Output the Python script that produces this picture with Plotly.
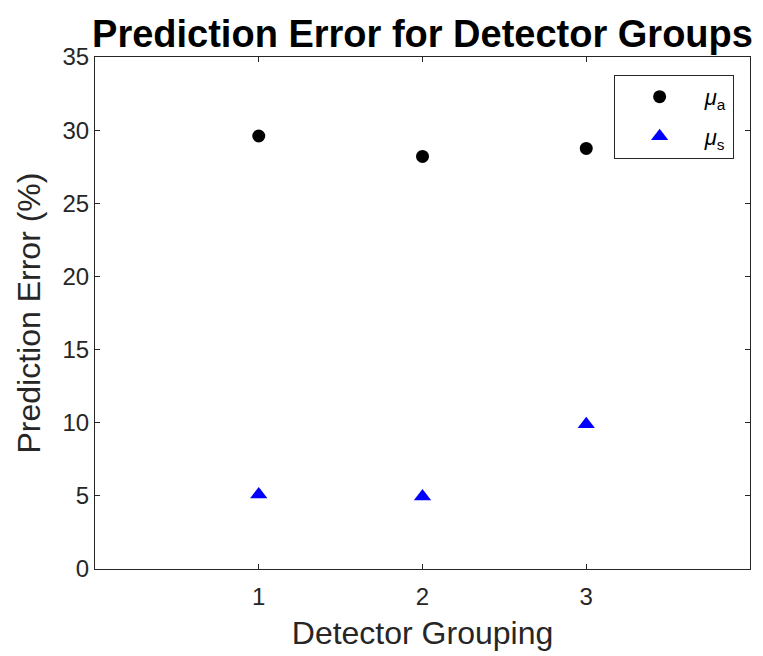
import plotly.graph_objects as go

# Detector groups and prediction errors (%)
groups = [1, 2, 3]
mu_a_error = [29.6, 28.2, 28.75]
mu_s_error = [5.1, 4.95, 9.9]

tick_labels = ["1", "2", "3"]
y_ticks = [0, 5, 10, 15, 20, 25, 30, 35]

axis_color = "#262626"
font_family = "Liberation Sans, Arial, Helvetica, sans-serif"

fig = go.Figure()

fig.add_trace(go.Scatter(
    x=groups, y=mu_a_error, mode="markers",
    name="<i>μ</i><sub>a</sub>", legendgroup="a",
    marker=dict(symbol="circle", size=13, color="black"),
))
fig.add_trace(go.Scatter(
    x=groups, y=mu_s_error, mode="markers",
    name="<i>μ</i><sub>s</sub>", legendgroup="s",
    marker=dict(symbol="triangle-up", size=15, color="#0000FF"),
))

axis_common = dict(
    showline=True, linecolor=axis_color, linewidth=1, mirror="ticks",
    ticks="inside", ticklen=5, tickwidth=1, tickcolor=axis_color,
    showgrid=False, zeroline=False, automargin=False,
    tickfont=dict(family=font_family, size=24, color=axis_color),
)

fig.update_layout(
    width=763, height=656,
    margin=dict(l=95, r=13, t=57, b=87),
    paper_bgcolor="white", plot_bgcolor="white",
    title=dict(
        text="<b>Prediction Error for Detector Groups</b>",
        font=dict(family=font_family, size=38, color="black"),
        x=0.5, xref="paper", xanchor="center",
        y=1, yref="paper", yanchor="bottom", pad=dict(b=10),
    ),
    xaxis=dict(
        range=[0, 4], tickvals=groups, ticktext=tick_labels,
        ticklabelstandoff=6,
        title=dict(text="Detector Grouping", standoff=12,
                   font=dict(family=font_family, size=32, color=axis_color)),
        **axis_common,
    ),
    yaxis=dict(
        range=[0, 35], tickvals=y_ticks,
        title=dict(text="Prediction Error (%)", standoff=12,
                   font=dict(family=font_family, size=32, color=axis_color)),
        **axis_common,
    ),
    legend=dict(
        x=0.975, xanchor="right", y=0.965, yanchor="top",
        bgcolor="white", bordercolor=axis_color, borderwidth=1,
        font=dict(family=font_family, size=22, color="black"),
        itemwidth=80, tracegroupgap=8,
        entrywidth=125, entrywidthmode="pixels",
    ),
    showlegend=True,
)

fig.write_html("out.html")
